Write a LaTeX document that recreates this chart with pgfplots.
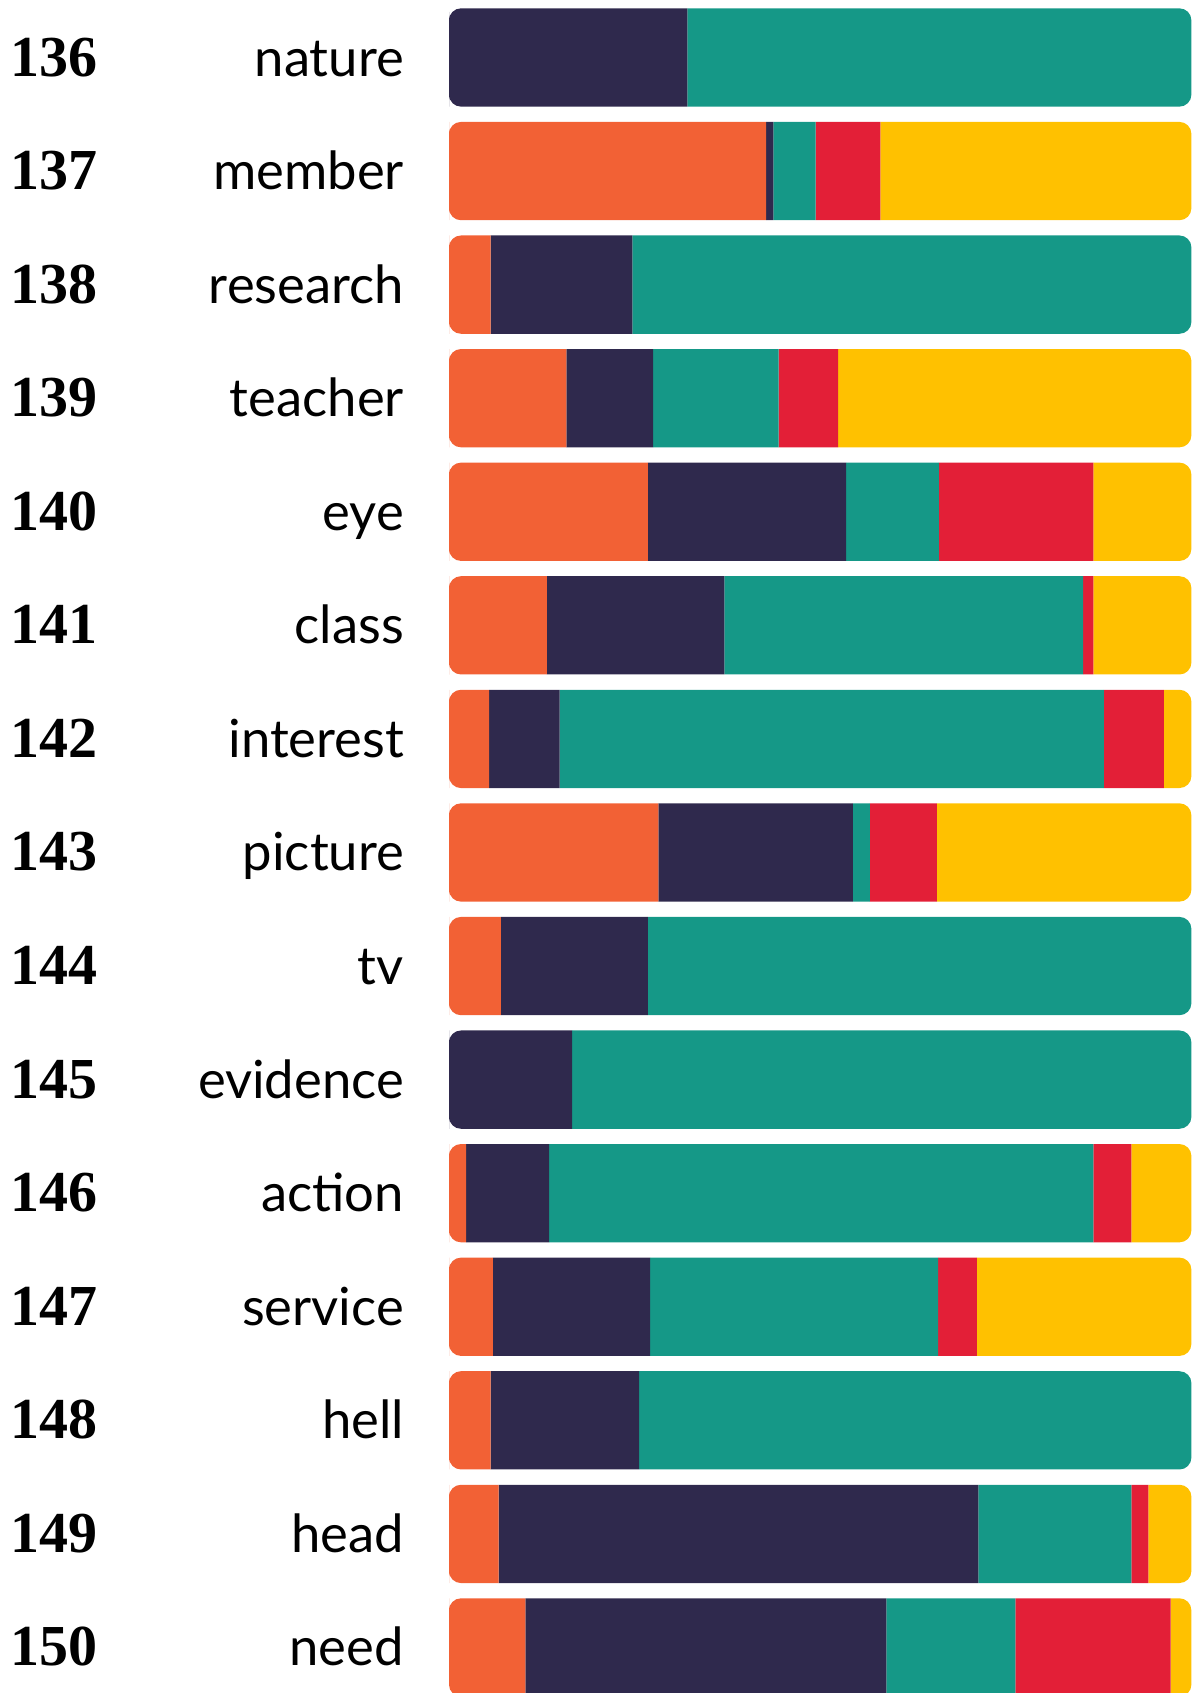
\documentclass[border=0pt]{standalone}
\usepackage{fontspec}
\usepackage{pgfplots}
\pgfplotsset{compat=1.18}
\setmainfont{Lato}
\newfontfamily\numf{Liberation Serif}
\newfontfamily\wordf{Lato}
\definecolor{cOr}{HTML}{F26135}
\definecolor{cNv}{HTML}{2F294D}
\definecolor{cTl}{HTML}{159887}
\definecolor{cRd}{HTML}{E31F37}
\definecolor{cYl}{HTML}{FFC100}
\newcommand{\lab}[2]{\makebox[196.5pt]{{\numf\bfseries\fontsize{29}{32}\selectfont #1}\hfill{\wordf\fontsize{26.3}{30}\selectfont #2}}}
\begin{document}
\begin{tikzpicture}
\useasboundingbox (0,0) rectangle (597.5pt,846.5pt);
\begin{scope}
\clip[rounded corners=6pt] (0pt,0pt) rectangle (224.5pt,846.5pt)
  \foreach \i in {0,...,14}{ (224.5pt,{817.75pt-56.785pt*\i-24.577pt}) rectangle (595.7pt,{817.75pt-56.785pt*\i+24.577pt}) };
\begin{axis}[
  at={(224.5pt,0pt)}, anchor=south west,
  scale only axis, width=371.2pt, height=846.5pt,
  xmin=0, xmax=100, ymin=-0.5063, ymax=14.401,
  y dir=reverse,
  xbar stacked, bar width=0.8656,
  axis line style={draw=none}, major tick length=0pt,
  xtick=\empty,
  ytick={0,...,14},
  yticklabels={\lab{136}{nature},\lab{137}{member},\lab{138}{research},\lab{139}{teacher},\lab{140}{eye},\lab{141}{class},\lab{142}{interest},\lab{143}{picture},\lab{144}{tv},\lab{145}{evidence},\lab{146}{action},\lab{147}{service},\lab{148}{hell},\lab{149}{head},\lab{150}{need}},
  yticklabel style={anchor=base east, inner sep=0pt, xshift=-22.3pt, yshift=-9.25pt},
  clip=false,
  every axis plot/.append style={draw=none},
]
\addplot[fill=cOr] coordinates {(0,0) (42.7,1) (5.6,2) (15.8,3) (26.8,4) (13.2,5) (5.4,6) (28.2,7) (7.0,8) (0,9) (2.3,10) (5.9,11) (5.6,12) (6.7,13) (10.3,14)};
\addplot[fill=cNv] coordinates {(32.1,0) (1.0,1) (19.1,2) (11.7,3) (26.7,4) (23.9,5) (9.5,6) (26.2,7) (19.8,8) (16.6,9) (11.2,10) (21.2,11) (20.0,12) (64.6,13) (48.6,14)};
\addplot[fill=cTl] coordinates {(67.9,0) (5.7,1) (75.3,2) (16.9,3) (12.5,4) (48.3,5) (73.3,6) (2.3,7) (73.2,8) (83.4,9) (73.3,10) (38.8,11) (74.4,12) (20.6,13) (17.4,14)};
\addplot[fill=cRd] coordinates {(0,0) (8.7,1) (0,2) (8.0,3) (20.8,4) (1.4,5) (8.1,6) (9.0,7) (0,8) (0,9) (5.1,10) (5.2,11) (0,12) (2.3,13) (20.9,14)};
\addplot[fill=cYl] coordinates {(0,0) (41.9,1) (0,2) (47.6,3) (13.3,4) (13.2,5) (3.7,6) (34.3,7) (0,8) (0,9) (8.1,10) (28.9,11) (0,12) (5.8,13) (2.8,14)};
\end{axis}
\end{scope}
\end{tikzpicture}
\end{document}
